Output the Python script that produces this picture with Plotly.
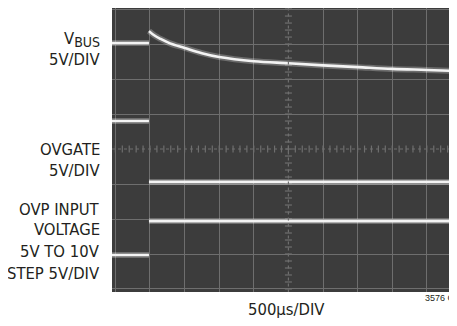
import numpy as np
import plotly.graph_objects as go

# time in microseconds (500us/div), vertical in scope divisions
t_step = 485
t_start, t_end = -49, 4936

vbus_pre = 7.03
vbus_t = [485, 560, 650, 790, 1000, 1250, 1500, 2000, 2500, 3000, 3500, 4000, 4500, 4936]
vbus_v = [7.37, 7.25, 7.15, 7.02, 6.89, 6.74, 6.63, 6.51, 6.45, 6.39, 6.34, 6.29, 6.26, 6.23]

ovgate_pre, ovgate_post = 4.80, 3.06
ovp_pre, ovp_post = 0.97, 1.94

labels = [("V<sub><span style='font-size:14px'>BUS</span></sub>", 7.13), ("5V/DIV", 6.57),
          ("OVGATE", 3.98), ("5V/DIV", 3.40),
          ("OVP INPUT", 2.27), ("VOLTAGE", 1.69), ("5V TO 10V", 1.07), ("STEP 5V/DIV", 0.44)]

BG = "#3c3c3c"
GRID = "#6e6e6e"
TRACE = "#f3f3f3"
FONT = "DejaVu Sans Condensed, Liberation Sans, sans-serif"

segments = [
    ([t_start, t_step], [vbus_pre, vbus_pre], "linear"),
    (vbus_t, vbus_v, "spline"),
    ([t_start, t_step], [ovgate_pre, ovgate_pre], "linear"),
    ([t_step, t_end], [ovgate_post, ovgate_post], "linear"),
    ([t_start, t_step], [ovp_pre, ovp_pre], "linear"),
    ([t_step, t_end], [ovp_post, ovp_post], "linear"),
]

fig = go.Figure()

# centre graticule tick marks
cx = np.arange(0, 5000, 100)
cy = np.arange(0, 8.01, 0.2)
fig.add_trace(go.Scatter(x=cx, y=[4] * len(cx), mode="markers", hoverinfo="skip",
                         marker=dict(symbol="line-ns", size=5, line=dict(color=GRID, width=1.2))))
fig.add_trace(go.Scatter(x=[2500] * len(cy), y=cy, mode="markers", hoverinfo="skip",
                         marker=dict(symbol="line-ew", size=5, line=dict(color=GRID, width=1.2))))

for x, y, shape in segments:
    fig.add_trace(go.Scatter(x=x, y=y, mode="lines", hoverinfo="skip",
                             line=dict(color="rgba(255,255,255,0.25)", width=6, shape=shape)))
    fig.add_trace(go.Scatter(x=x, y=y, mode="lines",
                             line=dict(color=TRACE, width=2.6, shape=shape)))

fig.add_shape(type="line", x0=2500, x1=2500, y0=-0.1, y1=8.1,
              line=dict(color=GRID, width=1.2, dash="dot"))
fig.add_shape(type="line", x0=t_start, x1=t_end, y0=4, y1=4,
              line=dict(color=GRID, width=1.2, dash="dot"))

for text, y in labels:
    fig.add_annotation(x=-0.029, y=y, xref="paper", yref="y", text=text, showarrow=False,
                       xanchor="right", yanchor="middle", align="right",
                       font=dict(family=FONT, size=16.5, color="#231f20"))

fig.add_annotation(x=2500 - 30, y=-0.062, xref="x", yref="paper", text="500µs/DIV", showarrow=False,
                   xanchor="center", yanchor="middle", font=dict(family=FONT, size=16.5, color="#231f20"))
fig.add_annotation(x=0.901, y=0.005, xref="paper", yref="paper", text="3576 G3", showarrow=False,
                   xanchor="left", yanchor="top", font=dict(family="Liberation Sans", size=9, color="#231f20"))

# page body has an 8px margin, so the figure is sized to the visible area
fig.update_layout(
    width=449, height=310,
    margin=dict(l=104, r=0, t=0, b=26),
    paper_bgcolor="white", plot_bgcolor=BG,
    showlegend=False,
    xaxis=dict(range=[t_start, t_end], tickvals=[0, 500, 1000, 1500, 2000, 3000, 3500, 4000, 4500],
               showticklabels=False, ticks="", gridcolor=GRID, gridwidth=1.4, zeroline=False),
    yaxis=dict(range=[-0.086, 8.03], tickvals=[0, 1, 2, 3, 5, 6, 7, 8],
               showticklabels=False, ticks="", gridcolor=GRID, gridwidth=1.4, zeroline=False),
)

fig.write_html("out.html")
